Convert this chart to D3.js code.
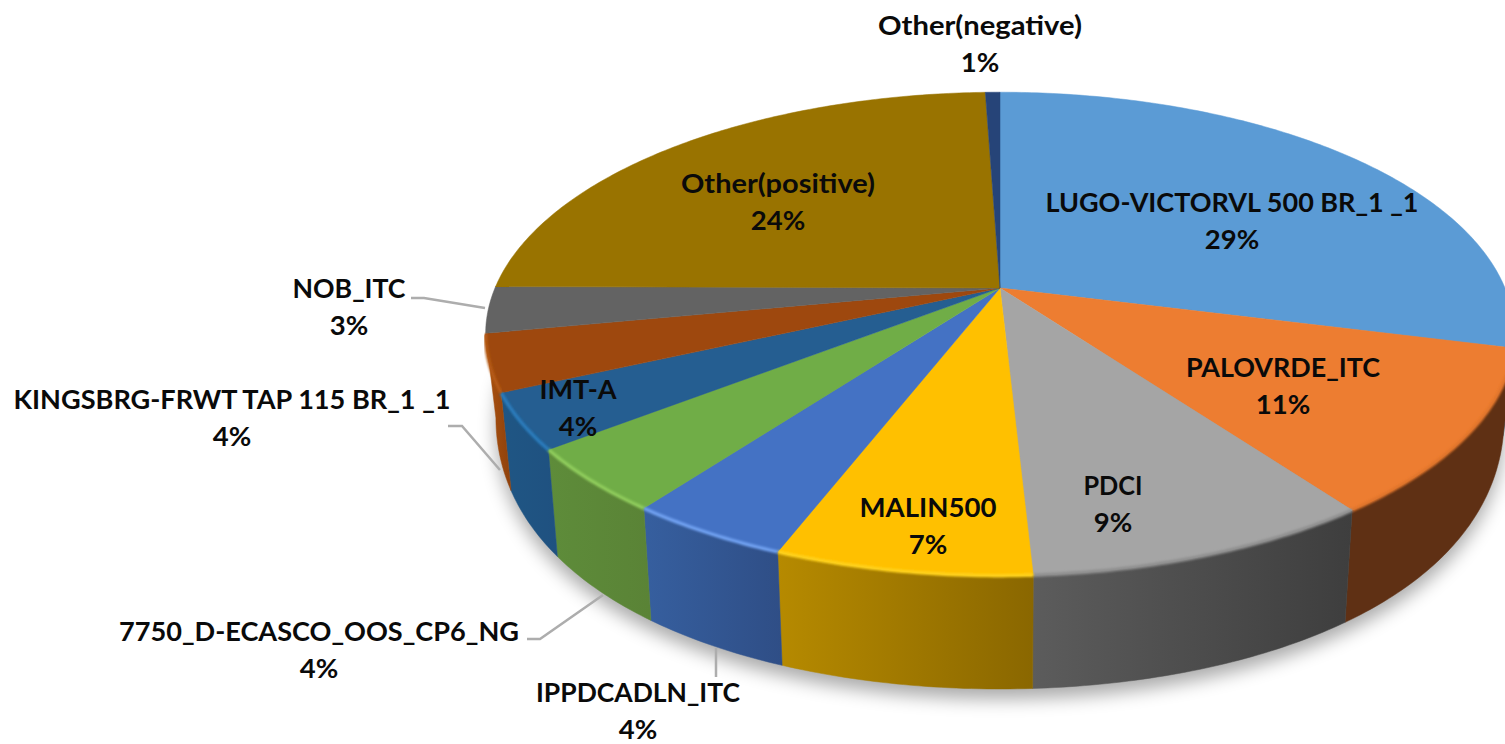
<!DOCTYPE html>
<html>
<head>
<meta charset="utf-8">
<script src="https://cdn.jsdelivr.net/npm/d3@7/dist/d3.min.js"></script>
<style>
html,body{margin:0;padding:0;background:#fff;overflow:hidden}
svg{display:block}
text{font-family:Lato,"Noto Sans",sans-serif;font-weight:700;fill:#0a0a0a}
</style>
</head>
<body>
<svg id="chart" width="1505" height="744"></svg>
<script>
// ---- data ----
const categories = ["LUGO-VICTORVL 500 BR_1 _1","PALOVRDE_ITC","PDCI","MALIN500","IPPDCADLN_ITC","7750_D-ECASCO_OOS_CP6_NG","IMT-A","KINGSBRG-FRWT TAP 115 BR_1 _1","NOB_ITC","Other(positive)","Other(negative)"];
const shares = [28.95,11,9.2,6.75,4.3,4.3,3.7,3.8,3.1,24.35,0.55];

// ---- styling / layout ----
const faceColors = ["#5b9bd5","#ed7d31","#a5a5a5","#ffc000","#4472c4","#70ad47","#255e91","#9e480e","#636363","#997300","#264478"];
const wallLeft  = ["#4a7ba8","#5f3014","#5c5c5c","#b68a00","#365f9f","#5e8c3a","#1f5684","#ab5210","#505050","#7a5c00","#1e3660"];
const wallRight = ["#3f6a90","#5f3014","#3e3e3e","#8a6700","#2f4e86","#5a8336","#1f5180","#8e410c","#404040","#6a5000","#1a2f55"];
const rimColors = ["#5b9bd5","#e0742c","#8f8f8f","#ffd21f","#6fa0f0","#8fcc5c","#2a7cbc","#b55a14","#636363","#997300","#264478"];
const labelAnchors = [[1232,203],[1283,368],[1113,486],[928,508],[638,693],[319,632],[578,390],[232,400],[349,289],[778,184],[980,26]];
const labelWidths = [373,194,59,137,204,400,77,437,113,194,204];
const leaders = {4:[[716,648],[716,677]],5:[[527,639],[540,639],[603,595]],7:[[448,426],[462,426],[500,470]],8:[[411,298],[424,298],[485,308]]};
const lineGap = 36.5, fontSize = 27.5;
const cx = 1000, cy = 288, a = 505, b = 233, k = 0.19;
const wallScale = 0.98, cyBottom = 357.4, bBottom = 315, kBottom = 0.05;
const wallStart = Math.PI * 0.52, wallEnd = Math.PI * 1.439;

// ---- projection of the tilted disc ----
const top3d = t => [cx + a*Math.sin(t)/(1+k*Math.cos(t)), cy - b*Math.cos(t)/(1+k*Math.cos(t))];
const bot3d = t => [cx + wallScale*a*Math.sin(t)/(1+k*Math.cos(t)), cyBottom - bBottom*Math.cos(t)/(1+kBottom*Math.cos(t))];
const sample = (t0,t1,f) => { const n = Math.max(2,Math.ceil(Math.abs(t1-t0)*80)); return d3.range(n+1).map(i=>f(t0+(t1-t0)*i/n)); };
const line = d3.line();

const arcs = d3.pie().sort(null).value(d=>d)(shares);
const svg = d3.select("#chart");
const defs = svg.append("defs");
defs.append("filter").attr("id","shadow").attr("x","-10%").attr("y","-10%").attr("width","120%").attr("height","130%")
  .append("feGaussianBlur").attr("stdDeviation",9);
defs.append("filter").attr("id","soft").attr("x","-5%").attr("y","-20%").attr("width","110%").attr("height","140%")
  .append("feGaussianBlur").attr("stdDeviation",1);

// shadow beneath the front edge
const shadowPts = sample(wallStart-0.2,wallEnd+0.15,bot3d);
svg.append("path").attr("d",line(shadowPts)+"Z")
  .attr("transform","translate(0,10)")
  .attr("fill","#000").attr("opacity",0.33).attr("filter","url(#shadow)");

// side walls
const walls = arcs.map((d,i)=>({d,i,t0:Math.max(d.startAngle,wallStart),t1:Math.min(d.endAngle,wallEnd)})).filter(w=>w.t1>w.t0);
walls.forEach(w=>{
  const ptsT = sample(w.t0,w.t1,top3d), ptsB = sample(w.t0,w.t1,bot3d);
  const xs = ptsT.concat(ptsB).map(p=>p[0]);
  const g = defs.append("linearGradient").attr("id","w"+w.i).attr("gradientUnits","userSpaceOnUse")
    .attr("x1",d3.min(xs)).attr("x2",d3.max(xs)).attr("y1",0).attr("y2",0);
  g.append("stop").attr("offset",0).attr("stop-color",wallLeft[w.i]);
  g.append("stop").attr("offset",1).attr("stop-color",wallRight[w.i]);
});
svg.append("g").selectAll("path").data(walls).join("path")
  .attr("d",w=>line(sample(w.t0,w.t1,top3d).concat(sample(w.t1,w.t0,bot3d)))+"Z")
  .attr("fill",w=>`url(#w${w.i})`)
  .attr("stroke",w=>`url(#w${w.i})`).attr("stroke-width",0.5);

// top faces
svg.append("g").selectAll("path").data(arcs).join("path")
  .attr("d",d=>line([[cx,cy]].concat(sample(d.startAngle,d.endAngle,top3d)))+"Z")
  .attr("fill",(d,i)=>faceColors[i])
  .attr("stroke",(d,i)=>faceColors[i]).attr("stroke-width",0.5);

// bright rim along the front edge
svg.append("g").selectAll("path").data(walls).join("path")
  .attr("d",w=>line(sample(w.t0,w.t1,top3d)))
  .attr("fill","none").attr("stroke",w=>rimColors[w.i]).attr("stroke-width",3.5)
  .attr("filter","url(#soft)");

// leader lines
svg.append("g").selectAll("path").data(Object.values(leaders)).join("path")
  .attr("d",d=>line(d)).attr("fill","none").attr("stroke","#adadad").attr("stroke-width",2.5);

// labels
const fmt = d3.format(".0%");
const total = d3.sum(shares);
const labels = svg.append("g").selectAll("text").data(categories).join("text")
  .attr("text-anchor","middle").attr("font-size",fontSize);
labels.append("tspan").attr("x",(d,i)=>labelAnchors[i][0]).attr("y",(d,i)=>labelAnchors[i][1]+9)
  .attr("textLength",(d,i)=>labelWidths[i]).attr("lengthAdjust","spacingAndGlyphs").text(d=>d);
labels.append("tspan").attr("x",(d,i)=>labelAnchors[i][0]).attr("y",(d,i)=>labelAnchors[i][1]+9+lineGap).text((d,i)=>fmt(shares[i]/total));
</script>
</body>
</html>
